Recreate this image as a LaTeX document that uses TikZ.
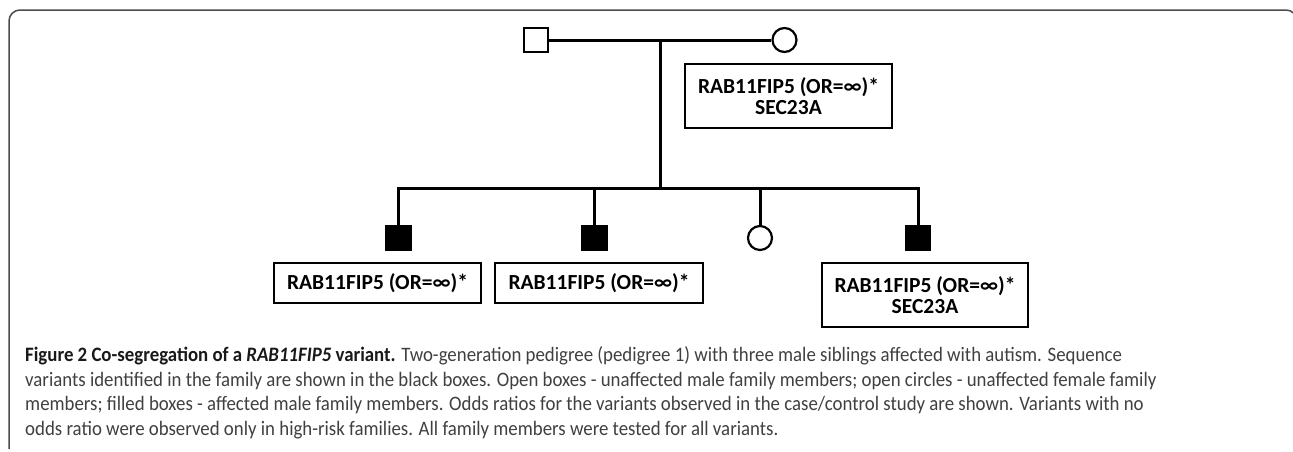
\documentclass[tikz,border=0pt]{standalone}
\usepackage{fontspec}
\setmainfont{Carlito}
\usepackage{graphicx}
\newcommand\capfont{\fontsize{20.5}{21}\selectfont}
\newcommand\capA{\textbf{\color{black!90}Figure 2 Co-segregation of a \textit{RAB11FIP5} variant.} Two-generation pedigree (pedigree 1) with three male siblings affected with autism. Sequence}
\newcommand\capB{variants identified in the family are shown in the black boxes. Open boxes - unaffected male family members; open circles - unaffected female family}
\newcommand\capC{members; filled boxes - affected male family members. Odds ratios for the variants observed in the case/control study are shown. Variants with no}
\newcommand\capD{odds ratio were observed only in high-risk families. All family members were tested for all variants.}
\newlength\capwa \newlength\capwb \newlength\capwc \newlength\capwd
\begin{document}
\settowidth{\capwa}{\capfont\capA}
\settowidth{\capwb}{\capfont\capB}
\settowidth{\capwc}{\capfont\capC}
\settowidth{\capwd}{\capfont\capD}
\pgfmathsetmacro\capsx{4100/(\capwa+\capwb+\capwc+\capwd)}
\begin{tikzpicture}[x=1pt,y=-1pt,
  ped/.style={line width=3pt},
  male/.style={draw, rectangle, line width=2.2pt, minimum size=24pt, inner sep=0pt, fill=white},
  affmale/.style={male, fill=black},
  female/.style={draw, circle, line width=2.2pt, minimum size=24pt, inner sep=0pt, fill=white},
  varbox/.style={draw, rectangle, line width=1.4pt, inner sep=0pt, align=center,
    font=\fontsize{21.5}{21}\selectfont\bfseries},
  capline/.style={anchor=base west, inner sep=0pt, text=black!75, font=\capfont},
  frame/.style={draw=black!70, line width=1.5pt, rounded corners=11pt}]
\useasboundingbox (0,0) rectangle (1293,451);
\clip (0,0) rectangle (1293,451);
\fill[white] (0,0) rectangle (1293,451);
% frame
\draw[frame] (9,449) -- (9,10) -- (1297,10) -- (1297,460);
% parents
\node[male] (f) at (536,40) {};
\node[female] (m) at (784.5,40) {};
\draw[ped] (f.east) -- (m.west);
\coordinate (mid) at (660,40);
\coordinate (sib) at (660,188);
\draw[ped] (mid) -- (sib);
% children
\node[affmale] (c1) at (398.5,238) {};
\node[affmale] (c2) at (594.5,238) {};
\node[female] (c3) at (760,238) {};
\node[affmale] (c4) at (918,238) {};
\draw[ped] (c1.north) -- (c1.north |- sib) -- (c4.north |- sib) -- (c4.north);
\draw[ped] (c2.north) -- (c2.north |- sib);
\draw[ped] (c3.north) -- (c3.north |- sib);
% variant boxes
\node[varbox, minimum width=207pt, minimum height=64pt] (bm) at (788.5,96) {RAB11FIP5 (OR=∞)*\\SEC23A};
\node[varbox, minimum width=207pt, minimum height=40pt] (b1) at (377.5,283) {RAB11FIP5 (OR=∞)*};
\node[varbox, minimum width=208pt, minimum height=40pt] (b2) at (599,283) {RAB11FIP5 (OR=∞)*};
\node[varbox, minimum width=206pt, minimum height=64pt] (b4) at (925,295) {RAB11FIP5 (OR=∞)*\\SEC23A};
% caption
\node[capline] (cap1) at (25,361.5) {\scalebox{\capsx}[1]{\capA}};
\node[capline] (cap2) at (25,386) {\scalebox{\capsx}[1]{\capB}};
\node[capline] (cap3) at (25,410.5) {\scalebox{\capsx}[1]{\capC}};
\node[capline] (cap4) at (25,435) {\scalebox{\capsx}[1]{\capD}};
\end{tikzpicture}
\end{document}
